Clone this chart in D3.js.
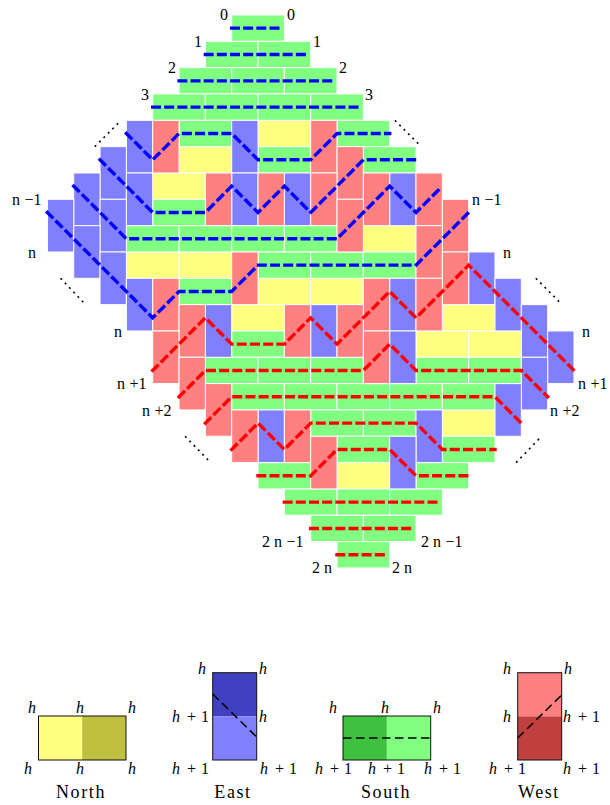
<!DOCTYPE html>
<html><head><meta charset="utf-8">
<script src="https://cdn.jsdelivr.net/npm/d3@7"></script>
<style>html,body{margin:0;padding:0;background:#fff}svg{display:block}text{font-family:"Liberation Serif",serif;fill:#000}</style>
</head><body><div id="c"></div>
<script>
// Lattice tiles: [column, row] of the upper-left corner
const northTiles=[[1,4],[-2,5],[-3,6],[5,8],[-4,9],[-2,9],[1,10],[3,10],[0,11],[8,11],[7,12],[9,12],[8,15],[4,17]];
const southTiles=[[0,0],[-1,1],[1,1],[-2,2],[0,2],[2,2],[-3,3],[-1,3],[1,3],[3,3],[-2,4],[4,4],[1,5],[5,5],[-3,7],
 [-4,8],[-2,8],[0,8],[2,8],[1,9],[3,9],[5,9],[-2,10],[0,12],[-1,13],[1,13],[3,13],[7,13],[9,13],
 [0,14],[2,14],[4,14],[6,14],[8,14],[3,15],[5,15],[4,16],[8,16],[1,17],[7,17],[2,18],[4,18],[6,18],[3,19],[5,19],[4,20]];
const eastTiles=[[-4,4],[0,4],[-5,5],[-6,6],[-4,6],[0,6],[2,6],[6,6],[-7,7],[-5,7],[-6,8],[-5,9],[9,9],[-4,10],[6,10],[10,10],
 [-1,11],[3,11],[11,11],[6,12],[12,12],[11,13],[10,14],[1,15],[7,15],[6,16]];
const westTiles=[[-3,4],[3,4],[4,5],[-1,6],[1,6],[3,6],[5,6],[7,6],[4,7],[8,7],[7,8],[0,9],[8,9],[-3,10],[5,10],[7,10],
 [-2,11],[2,11],[4,11],[-3,12],[5,12],[-2,13],[-1,14],[0,15],[2,15],[3,16]];
// Boundary paths between height levels: [column, row]
const bluePaths=[
 [[0,.5],[2,.5]],
 [[-1,1.5],[3,1.5]],
 [[-2,2.5],[4,2.5]],
 [[-3,3.5],[5,3.5]],
 [[-4,4.5],[-3,5.5],[-2,4.5],[0,4.5],[1,5.5],[3,5.5],[4,4.5],[6,4.5]],
 [[-5,5.5],[-3,7.5],[-1,7.5],[0,6.5],[1,7.5],[2,6.5],[3,7.5],[5,5.5],[7,5.5]],
 [[-6,6.5],[-4,8.5],[4,8.5],[6,6.5],[7,7.5],[8,6.5]],
 [[-7,7.5],[-3,11.5],[-2,10.5],[0,10.5],[1,9.5],[7,9.5],[9,7.5]]];
const redPaths=[
 [[-3,13.5],[-1,11.5],[0,12.5],[2,12.5],[3,11.5],[4,12.5],[6,10.5],[7,11.5],[9,9.5],[13,13.5]],
 [[-2,14.5],[-1,13.5],[5,13.5],[6,12.5],[7,13.5],[11,13.5],[12,14.5]],
 [[-1,15.5],[0,14.5],[10,14.5],[11,15.5]],
 [[0,16.5],[1,15.5],[2,16.5],[3,15.5],[7,15.5],[8,16.5],[10,16.5]],
 [[1,17.5],[3,17.5],[4,16.5],[6,16.5],[7,17.5],[9,17.5]],
 [[2,18.5],[8,18.5]],
 [[3,19.5],[7,19.5]],
 [[4,20.5],[6,20.5]]];
const ellipsisLines=[[[-5.2,5],[-4.2,4]],[[6.2,4],[7.2,5]],[[-6.5,10],[-5.55,11]],[[11.55,10],[12.55,11]],[[-1.77,16],[-.8,17]],[[10.8,17],[11.77,16]]];
const leftLabels=["0","1","2","3","n −1","n","n","n +1","n +2","2 n −1","2 n"];
const rightLabels=["0","1","2","3","n −1","n","n","n +1","n +2","2 n −1","2 n"];
const legendNames=["North","East","South","West"];

const W=610,H=805;
const x=d3.scaleLinear().domain([0,1]).range([231.7,258.03]);
const y=d3.scaleLinear().domain([0,1]).range([15,41.33]);
const svg=d3.select("#c").append("svg").attr("width",W).attr("height",H).attr("viewBox",[0,0,W,H]);
const tileKinds=[
 {d:northTiles,w:2,h:1,c:"#FFFF80"},{d:southTiles,w:2,h:1,c:"#80FF80"},
 {d:eastTiles,w:1,h:2,c:"#8080FF"},{d:westTiles,w:1,h:2,c:"#FF8080"}];
tileKinds.forEach(k=>{
 svg.append("g").selectAll("rect").data(k.d).join("rect")
  .attr("x",d=>x(d[0])).attr("y",d=>y(d[1]))
  .attr("width",d=>x(d[0]+k.w)-x(d[0])).attr("height",d=>y(d[1]+k.h)-y(d[1]))
  .attr("fill",k.c).attr("stroke","#fff").attr("stroke-width",1);
});
const line=d3.line().x(d=>x(d[0])).y(d=>y(d[1]));
[[bluePaths,"#0000FF"],[redPaths,"#FF0000"]].forEach(([ps,c])=>{
 svg.append("g").selectAll("path").data(ps).join("path").attr("d",line)
  .attr("fill","none").attr("stroke",c).attr("stroke-width",3.4)
  .attr("stroke-linecap","square").attr("stroke-linejoin","miter")
  .attr("stroke-dasharray","6.6 6.57");
});
svg.append("g").selectAll("path").data(ellipsisLines).join("path").attr("d",line)
 .attr("fill","none").attr("stroke","#000").attr("stroke-width",1.6).attr("stroke-dasharray","2 4.2");

// label placements [x, baseline, anchor], same order as the label arrays
const leftPos=[[224,20,"middle"],[198,47,"middle"],[172,73,"middle"],[145,100,"middle"],[12,205,"start"],[32,258,"middle"],[118,337,"middle"],[117,389,"start"],[142,416,"start"],[262,547,"start"],[312,573,"start"]];
const rightPos=[[291,20,"middle"],[317,47,"middle"],[343,73,"middle"],[369,100,"middle"],[472,205,"start"],[507,258,"middle"],[586,337,"middle"],[578,389,"start"],[550,416,"start"],[421,547,"start"],[392,573,"start"]];
function lab(texts,pos){
 svg.append("g").selectAll("text").data(texts).join("text")
  .attr("x",(d,i)=>pos[i][0]).attr("y",(d,i)=>pos[i][1]).attr("text-anchor",(d,i)=>pos[i][2])
  .attr("font-size",16).style("white-space","pre")
  .text(d=>d.replace(" −","\u2009\u200a−").replace(" +","\u2009\u200a+"));
}
lab(leftLabels,leftPos);lab(rightLabels,rightPos);

// Legend
const legendRects=[
 {x:38.5,y:716,w:87.5,h:44,split:"v",a:"#FFFF80",b:"#BFBF40"},
 {x:212.7,y:672.7,w:44,h:87.3,split:"h",a:"#4040C0",b:"#8080FF"},
 {x:343,y:716,w:87.7,h:44,split:"v",a:"#40C040",b:"#80FF80"},
 {x:517.7,y:672.7,w:44,h:87.3,split:"h",a:"#FF8080",b:"#C04040"}];
const lg=svg.append("g");
legendRects.forEach(r=>{
 if(r.split==="v"){
  lg.append("rect").attr("x",r.x).attr("y",r.y).attr("width",r.w/2).attr("height",r.h).attr("fill",r.a);
  lg.append("rect").attr("x",r.x+r.w/2).attr("y",r.y).attr("width",r.w/2).attr("height",r.h).attr("fill",r.b);
 } else {
  lg.append("rect").attr("x",r.x).attr("y",r.y).attr("width",r.w).attr("height",r.h/2).attr("fill",r.a);
  lg.append("rect").attr("x",r.x).attr("y",r.y+r.h/2).attr("width",r.w).attr("height",r.h/2).attr("fill",r.b);
 }
 lg.append("rect").attr("x",r.x).attr("y",r.y).attr("width",r.w).attr("height",r.h).attr("fill","none").attr("stroke","#111").attr("stroke-width",1);
});
const legendDashes=[[[212.7,694],[256.7,737]],[[343,738],[430.7,738]],[[517.7,738],[561.7,695]]];
lg.selectAll("line").data(legendDashes).join("line")
 .attr("x1",d=>d[0][0]).attr("y1",d=>d[0][1]).attr("x2",d=>d[1][0]).attr("y2",d=>d[1][1])
 .attr("stroke","#000").attr("stroke-width",1.5).attr("stroke-dasharray","8.5 4.5");
const legendH=[[32,713,"h"],[80,713,"h"],[132,713,"h"],[28,774,"h"],[80,774,"h"],[132,774,"h"],
 [202,674,"h"],[263,674,"h"],[172,722,"h1"],[263,722,"h"],[172,774,"h1"],[260,774,"h1"],
 [333,713,"h"],[385,713,"h"],[437,713,"h"],[315,774,"h1"],[368,774,"h1"],[424,774,"h1"],
 [507,674,"h"],[568,674,"h"],[507,722,"h"],[563,722,"h1"],[489,774,"h1"],[563,774,"h1"]];
legendH.forEach(d=>{
 const t=lg.append("text").attr("x",d[0]).attr("y",d[1]).attr("font-size",16).attr("text-anchor",d[2]==="h"?"middle":"start");
 t.append("tspan").attr("font-style","italic").text("h");
 if(d[2]==="h1"){t.append("tspan").attr("dx",7).text("+");t.append("tspan").attr("dx",5).text("1");}
});
const titleX=[81,233,386,539];
lg.selectAll("text.t").data(legendNames).join("text").attr("class","t")
 .attr("x",(d,i)=>titleX[i]).attr("y",798).attr("text-anchor","middle").attr("font-size",18).attr("letter-spacing",1.6).text(d=>d);
</script></body></html>
